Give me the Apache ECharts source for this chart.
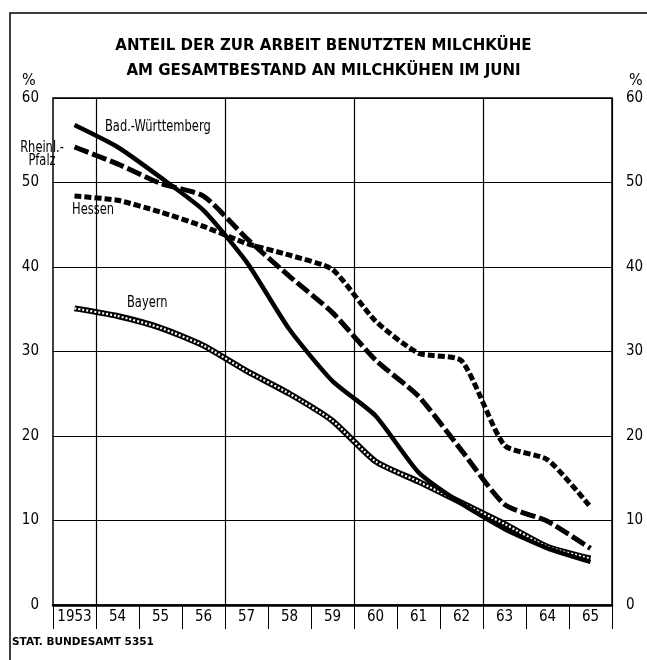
<!DOCTYPE html>
<html><head><meta charset="utf-8">
<script src="https://cdn.jsdelivr.net/npm/echarts@6/dist/echarts.min.js"></script>
<style>html,body{margin:0;padding:0;background:#fff}#c{width:647px;height:660px}</style>
</head><body><div id="c"></div>
<script>
const categories = ['1953','54','55','56','57','58','59','60','61','62','63','64','65'];
const badenWuerttemberg = [56.8, 54.2, 50.6, 46.7, 40.6, 32.6, 26.5, 22.4, 15.7, 12.0, 9.0, 6.7, 5.1];
const rheinlandPfalz   = [54.2, 52.2, 49.9, 48.4, 43.4, 38.9, 34.6, 29.0, 24.7, 18.3, 11.9, 9.9, 6.7];
const hessen           = [48.4, 47.9, 46.5, 44.8, 42.8, 41.4, 39.7, 33.6, 29.8, 28.9, 18.9, 17.2, 11.6];
const bayern           = [35.1, 34.2, 32.8, 30.7, 27.7, 25.0, 21.8, 17.0, 14.6, 12.1, 9.6, 6.9, 5.5];
const yTicks = [0, 10, 20, 30, 40, 50, 60];

const FONT = '"Liberation Sans Narrow","DejaVu Sans Condensed",sans-serif';
const chart = echarts.init(document.getElementById('c'), null, {renderer: 'canvas'});

const yAxisBase = {
  type: 'value', min: yTicks[0], max: yTicks[yTicks.length - 1], interval: 10,
  axisLine: {show: false}, axisTick: {show: false},
  axisLabel: {color: '#000', fontFamily: FONT, fontSize: 15, margin: 14},
};

function label(x, y, text, extra) {
  return Object.assign({type: 'text', x: x, y: y, scaleX: 0.85,
    style: Object.assign({text: text, font: '15px ' + FONT, fill: '#000'}, extra || {})});
}

chart.setOption({
  animation: false,
  backgroundColor: '#fff',
  grid: {left: 53, right: 35, top: 98, bottom: 55, show: true, borderColor: '#000', borderWidth: 1.5},
  xAxis: {
    type: 'category', data: categories, boundaryGap: true,
    axisLine: {show: true, lineStyle: {color: '#000', width: 2.5}},
    axisTick: {show: true, interval: 0, length: 24, lineStyle: {color: '#000', width: 1}},
    axisLabel: {interval: 0, color: '#000', fontFamily: FONT, fontSize: 15, margin: 5},
    splitLine: {show: true, interval: function (i) { return i % 3 === 1; }, lineStyle: {color: '#000', width: 1.2}}
  },
  yAxis: [
    Object.assign({}, yAxisBase, {position: 'left', splitLine: {show: true, lineStyle: {color: '#000', width: 1.2}}}),
    Object.assign({}, yAxisBase, {position: 'right', splitLine: {show: false}})
  ],
  series: [
    {name: 'Bayern', type: 'line', data: bayern, smooth: 0.2, symbol: 'none', z: 2,
     lineStyle: {color: '#000', width: 6}},
    {name: 'Bayern-inner', type: 'line', data: bayern, smooth: 0.2, symbol: 'none', z: 3,
     lineStyle: {color: '#fff', width: 2.2, type: [2, 2]}},
    {name: 'Hessen', type: 'line', data: hessen, smooth: 0.2, symbol: 'none', z: 4,
     lineStyle: {color: '#000', width: 5, type: [7, 3]}},
    {name: 'Rheinl.-Pfalz', type: 'line', data: rheinlandPfalz, smooth: 0.2, symbol: 'none', z: 5,
     lineStyle: {color: '#000', width: 5, type: [15, 4]}},
    {name: 'Bad.-Württemberg', type: 'line', data: badenWuerttemberg, smooth: 0.2, symbol: 'none', z: 6,
     lineStyle: {color: '#000', width: 4.5}}
  ],
  graphic: [
    {type: 'polyline', shape: {points: [[10, 660], [10, 13], [647, 13]]}, style: {fill: 'none', stroke: '#000', lineWidth: 1.5}, silent: true},
    {type: 'text', left: 'center', top: 33, style: {text: 'ANTEIL DER ZUR ARBEIT BENUTZTEN MILCHKÜHE\nAM GESAMTBESTAND AN MILCHKÜHEN IM JUNI', font: 'bold 16.7px "DejaVu Sans Condensed",sans-serif', fill: '#000', textAlign: 'center', lineHeight: 25}},
    {type: 'text', x: 22, y: 73, style: {text: '%', font: '16px ' + FONT, fill: '#000'}},
    {type: 'text', x: 629, y: 73, style: {text: '%', font: '16px ' + FONT, fill: '#000'}},
    label(105, 120, 'Bad.-Württemberg'),
    label(42, 142, 'Rheinl.-\nPfalz', {textAlign: 'center', lineHeight: 13}),
    label(72, 203, 'Hessen'),
    label(127, 296, 'Bayern'),
    {type: 'text', x: 12, y: 637, style: {text: 'STAT. BUNDESAMT 5351', font: 'bold 10.5px "DejaVu Sans",sans-serif', fill: '#000'}}
  ]
});
</script></body></html>
